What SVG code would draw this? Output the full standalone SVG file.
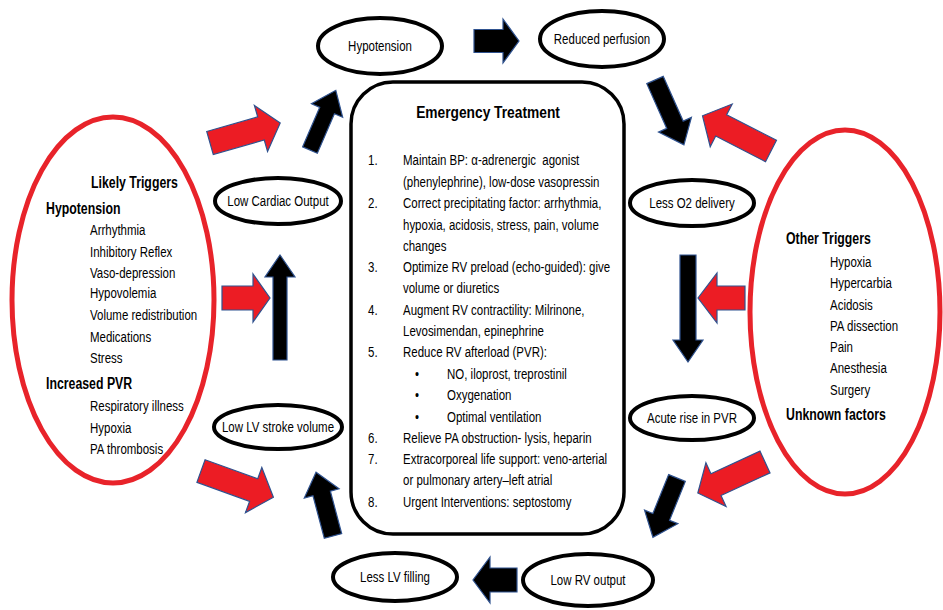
<svg xmlns="http://www.w3.org/2000/svg" width="943" height="610" viewBox="0 0 943 610">
<style>
text{font-family:"Liberation Sans",Arial,sans-serif;fill:#000}
.t{font-size:14px}
.b{font-size:16px;font-weight:bold}
.h{font-size:17px;font-weight:bold}
.node{fill:#fff;stroke:#000;stroke-width:4}
.trig{fill:none;stroke:#E8232A;stroke-width:5}
.ba{fill:#000;stroke:#2F528F;stroke-width:1.2}
.ra{fill:#EC1C24;stroke:#2F528F;stroke-width:1.2}
</style>
<rect width="943" height="610" fill="#fff"/>

<g id="likely-triggers">
<ellipse class="trig" cx="113" cy="300" rx="101" ry="183"/>
<text class="b" transform="translate(91,188) scale(.77,1)">Likely Triggers</text>
<text class="b" transform="translate(46,214) scale(.77,1)">Hypotension</text>
<text class="t" transform="translate(90,235) scale(.82,1)">Arrhythmia</text>
<text class="t" transform="translate(90,257) scale(.82,1)">Inhibitory Reflex</text>
<text class="t" transform="translate(90,278) scale(.82,1)">Vaso-depression</text>
<text class="t" transform="translate(90,298) scale(.82,1)">Hypovolemia</text>
<text class="t" transform="translate(90,320) scale(.82,1)">Volume redistribution</text>
<text class="t" transform="translate(90,342) scale(.82,1)">Medications</text>
<text class="t" transform="translate(90,363) scale(.82,1)">Stress</text>
<text class="b" transform="translate(46,389) scale(.77,1)">Increased PVR</text>
<text class="t" transform="translate(90,411) scale(.82,1)">Respiratory illness</text>
<text class="t" transform="translate(90,433) scale(.82,1)">Hypoxia</text>
<text class="t" transform="translate(90,454) scale(.82,1)">PA thrombosis</text>
</g>

<g id="other-triggers">
<ellipse class="trig" cx="845" cy="312" rx="95" ry="182"/>
<text class="b" transform="translate(786,244) scale(.77,1)">Other Triggers</text>
<text class="t" transform="translate(830,267) scale(.82,1)">Hypoxia</text>
<text class="t" transform="translate(830,288) scale(.82,1)">Hypercarbia</text>
<text class="t" transform="translate(830,310) scale(.82,1)">Acidosis</text>
<text class="t" transform="translate(830,331) scale(.82,1)">PA dissection</text>
<text class="t" transform="translate(830,352) scale(.82,1)">Pain</text>
<text class="t" transform="translate(830,373) scale(.82,1)">Anesthesia</text>
<text class="t" transform="translate(830,395) scale(.82,1)">Surgery</text>
<text class="b" transform="translate(786,420) scale(.77,1)">Unknown factors</text>
</g>

<g id="emergency-treatment">
<rect x="351" y="82" width="273" height="452" rx="42" ry="42" fill="#fff" stroke="#000" stroke-width="3.5"/>
<text class="h" text-anchor="middle" transform="translate(488,118) scale(.81,1)">Emergency Treatment</text>
<g class="t">
<text transform="translate(368,165) scale(.82,1)">1.</text>
<text transform="translate(403,165) scale(.82,1)" xml:space="preserve">Maintain BP: α-adrenergic  agonist</text>
<text transform="translate(403,187) scale(.82,1)">(phenylephrine), low-dose vasopressin</text>
<text transform="translate(368,208) scale(.82,1)">2.</text>
<text transform="translate(403,208) scale(.82,1)">Correct precipitating factor: arrhythmia,</text>
<text transform="translate(403,230) scale(.82,1)">hypoxia, acidosis, stress, pain, volume</text>
<text transform="translate(403,251) scale(.82,1)">changes</text>
<text transform="translate(368,272) scale(.82,1)">3.</text>
<text transform="translate(403,272) scale(.82,1)">Optimize RV preload (echo-guided): give</text>
<text transform="translate(403,293) scale(.82,1)">volume or diuretics</text>
<text transform="translate(368,315) scale(.82,1)">4.</text>
<text transform="translate(403,315) scale(.82,1)">Augment RV contractility: Milrinone,</text>
<text transform="translate(403,336) scale(.82,1)">Levosimendan, epinephrine</text>
<text transform="translate(368,357) scale(.82,1)">5.</text>
<text transform="translate(403,357) scale(.82,1)">Reduce RV afterload (PVR):</text>
<text transform="translate(415,379) scale(.82,1)">•</text>
<text transform="translate(447,379) scale(.82,1)">NO, iloprost, treprostinil</text>
<text transform="translate(415,400) scale(.82,1)">•</text>
<text transform="translate(447,400) scale(.82,1)">Oxygenation</text>
<text transform="translate(415,422) scale(.82,1)">•</text>
<text transform="translate(447,422) scale(.82,1)">Optimal ventilation</text>
<text transform="translate(368,443) scale(.82,1)">6.</text>
<text transform="translate(403,443) scale(.82,1)">Relieve PA obstruction- lysis, heparin</text>
<text transform="translate(368,464) scale(.82,1)">7.</text>
<text transform="translate(403,464) scale(.82,1)">Extracorporeal life support: veno-arterial</text>
<text transform="translate(403,485) scale(.82,1)">or pulmonary artery–left atrial</text>
<text transform="translate(368,507) scale(.82,1)">8.</text>
<text transform="translate(403,507) scale(.82,1)">Urgent Interventions: septostomy</text>
</g>
</g>

<g id="n-hypotension"><ellipse class="node" cx="380" cy="46" rx="62" ry="28"/><text class="t" text-anchor="middle" transform="translate(380,51) scale(.82,1)">Hypotension</text></g>
<g id="n-reduced-perfusion"><ellipse class="node" cx="602" cy="39" rx="62" ry="28"/><text class="t" text-anchor="middle" transform="translate(602,44) scale(.82,1)">Reduced perfusion</text></g>
<g id="n-low-cardiac-output"><ellipse class="node" cx="278" cy="201" rx="63" ry="23"/><text class="t" text-anchor="middle" transform="translate(278,206) scale(.82,1)">Low Cardiac Output</text></g>
<g id="n-low-lv-stroke"><ellipse class="node" cx="278" cy="427" rx="64" ry="22"/><text class="t" text-anchor="middle" transform="translate(278,432) scale(.82,1)">Low LV stroke volume</text></g>
<g id="n-less-o2"><ellipse class="node" cx="692" cy="203" rx="62" ry="23"/><text class="t" text-anchor="middle" transform="translate(692,208) scale(.82,1)">Less O2 delivery</text></g>
<g id="n-acute-pvr"><ellipse class="node" cx="692" cy="418" rx="62" ry="22"/><text class="t" text-anchor="middle" transform="translate(692,423) scale(.82,1)">Acute rise in PVR</text></g>
<g id="n-less-lv-filling"><ellipse class="node" cx="395" cy="577" rx="62" ry="24"/><text class="t" text-anchor="middle" transform="translate(395,582) scale(.82,1)">Less LV filling</text></g>
<g id="n-low-rv-output"><ellipse class="node" cx="588" cy="580" rx="65" ry="26"/><text class="t" text-anchor="middle" transform="translate(588,585) scale(.82,1)">Low RV output</text></g>

<g id="connectors">
<path class="ba" transform="translate(474,41)" d="M0,-11.5 H29 V-22 L45,0 L29,22 V11.5 H0 Z"/>
<path class="ba" transform="translate(655,80) rotate(65.96)" d="M0,-9 H49 V-18 L71,0 L49,18 V9 H0 Z"/>
<path class="ba" transform="translate(688,255) rotate(90)" d="M0,-8 H85 V-15 L107,0 L85,15 V8 H0 Z"/>
<path class="ba" transform="translate(677,478) rotate(112.1)" d="M0,-9 H42 V-18 L64,0 L42,18 V9 H0 Z"/>
<path class="ba" transform="translate(517,580) rotate(180)" d="M0,-12 H27 V-23 L44,0 L27,23 V12 H0 Z"/>
<path class="ba" transform="translate(333,536) rotate(-104.9)" d="M0,-9 H44 V-18 L66,0 L44,18 V9 H0 Z"/>
<path class="ba" transform="translate(280,360) rotate(-90)" d="M0,-7 H83 V-15 L105,0 L83,15 V7 H0 Z"/>
<path class="ba" transform="translate(310,150) rotate(-66.6)" d="M0,-8 H43 V-17 L65,0 L43,17 V8 H0 Z"/>
<path class="ra" transform="translate(210,143) rotate(-15.9)" d="M0,-12 H53 V-24 L73,0 L53,24 V12 H0 Z"/>
<path class="ra" transform="translate(222,298)" d="M0,-12 H31 V-24 L48,0 L31,24 V12 H0 Z"/>
<path class="ra" transform="translate(201,471) rotate(19.9)" d="M0,-12 H56 V-24 L77,0 L56,24 V12 H0 Z"/>
<path class="ra" transform="translate(771,151) rotate(-152.8)" d="M0,-12 H56 V-24 L77,0 L56,24 V12 H0 Z"/>
<path class="ra" transform="translate(745,298) rotate(180)" d="M0,-12 H28 V-25 L47,0 L28,25 V12 H0 Z"/>
<path class="ra" transform="translate(765,462) rotate(155.2)" d="M0,-12 H54 V-24 L74,0 L54,24 V12 H0 Z"/>
</g>
</svg>
